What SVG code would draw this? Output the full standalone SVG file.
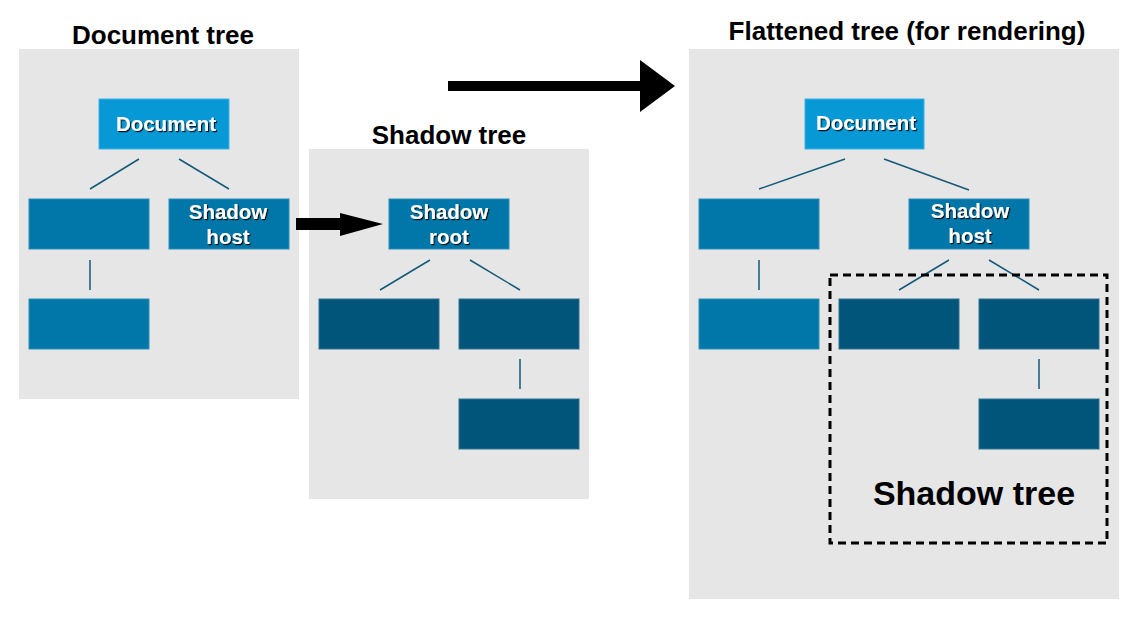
<svg xmlns="http://www.w3.org/2000/svg" width="1143" height="620" viewBox="0 0 1143 620">
<defs>
<style>
.panel{fill:#e6e6e6}
.title{font-family:"Liberation Sans",Arial,sans-serif;font-weight:bold;font-size:26px;fill:#000;text-anchor:middle}
.big{font-family:"Liberation Sans",Arial,sans-serif;font-weight:bold;font-size:34px;fill:#000;text-anchor:middle}
.lbl{font-family:"Liberation Sans",Arial,sans-serif;font-weight:bold;font-size:20.5px;fill:#fff;text-anchor:middle;filter:url(#ts)}
.n1{fill:#0799d5;stroke:#3fb0df;stroke-width:1}
.n2{fill:#0077a8;stroke:#2b8fb8;stroke-width:1}
.n3{fill:#02557a;stroke:#2a7393;stroke-width:1}
.edge{stroke:#125a78;stroke-width:1.5;fill:none}
</style>
<filter id="ts" x="-10%" y="-20%" width="130%" height="150%">
<feDropShadow dx="1.2" dy="1.2" stdDeviation="0.6" flood-color="#000" flood-opacity="0.9"/>
</filter>
</defs>
<rect width="1143" height="620" fill="#fff"/>
<g id="panels">
<rect class="panel" x="19" y="49" width="280" height="350"/>
<rect class="panel" x="309" y="149" width="280" height="350"/>
<rect class="panel" x="689" y="49" width="430" height="550"/>
</g>
<g id="titles">
<text class="title" x="163" y="44">Document tree</text>
<text class="title" x="449" y="144">Shadow tree</text>
<text class="title" x="907" y="40">Flattened tree (for rendering)</text>
</g>
<g id="connectors">
<line class="edge" x1="139" y1="159" x2="90" y2="189"/>
<line class="edge" x1="179" y1="159" x2="229" y2="189"/>
<line class="edge" x1="90" y1="260" x2="90" y2="290"/>
<line class="edge" x1="430" y1="260" x2="380" y2="290"/>
<line class="edge" x1="470" y1="260" x2="520" y2="290"/>
<line class="edge" x1="520" y1="359" x2="520" y2="389"/>
<line class="edge" x1="845" y1="159" x2="759" y2="189"/>
<line class="edge" x1="884" y1="159" x2="969" y2="190"/>
<line class="edge" x1="759" y1="260" x2="759" y2="290"/>
<line class="edge" x1="949" y1="260" x2="899" y2="290"/>
<line class="edge" x1="989" y1="260" x2="1039" y2="290"/>
<line class="edge" x1="1039" y1="359" x2="1039" y2="389"/>
<g id="arrow-host-root">
<rect x="296" y="218" width="45" height="12" fill="#000"/>
<polygon points="340,213 383,224 340,236" fill="#000"/>
</g>
<g id="arrow-flatten">
<rect x="448" y="81" width="193" height="10" fill="#000"/>
<polygon points="640,60 675,86 640,112" fill="#000"/>
</g>
</g>
<g id="doc-document"><rect class="n1" x="99" y="99" width="130" height="50"/><text class="lbl" x="166" y="131">Document</text></g>
<g id="doc-child1"><rect class="n2" x="29" y="199" width="120" height="50"/></g>
<g id="doc-shadowhost"><rect class="n2" x="169" y="199" width="120" height="50"/><text class="lbl" x="228" y="219">Shadow</text><text class="lbl" x="228" y="244">host</text></g>
<g id="doc-grandchild"><rect class="n2" x="29" y="299" width="120" height="50"/></g>
<g id="sh-root"><rect class="n2" x="389" y="199" width="120" height="50"/><text class="lbl" x="449" y="219">Shadow</text><text class="lbl" x="449" y="244">root</text></g>
<g id="sh-child1"><rect class="n3" x="319" y="299" width="120" height="50"/></g>
<g id="sh-child2"><rect class="n3" x="459" y="299" width="120" height="50"/></g>
<g id="sh-grandchild"><rect class="n3" x="459" y="399" width="120" height="50"/></g>
<g id="fl-document"><rect class="n1" x="805" y="99" width="119" height="50"/><text class="lbl" x="866" y="130">Document</text></g>
<g id="fl-child1"><rect class="n2" x="699" y="199" width="120" height="50"/></g>
<g id="fl-shadowhost"><rect class="n2" x="909" y="199" width="120" height="50"/><text class="lbl" x="970" y="218">Shadow</text><text class="lbl" x="970" y="243">host</text></g>
<g id="fl-grandchild"><rect class="n2" x="699" y="299" width="120" height="50"/></g>
<g id="fl-sh-child1"><rect class="n3" x="839" y="299" width="120" height="50"/></g>
<g id="fl-sh-child2"><rect class="n3" x="979" y="299" width="120" height="50"/></g>
<g id="fl-sh-grandchild"><rect class="n3" x="979" y="399" width="120" height="50"/></g>
<g id="shadow-tree-box">
<rect x="830" y="275" width="277" height="268" fill="none" stroke="#000" stroke-width="3" stroke-dasharray="8,5"/>
<text class="big" x="974" y="505">Shadow tree</text>
</g>
</svg>
